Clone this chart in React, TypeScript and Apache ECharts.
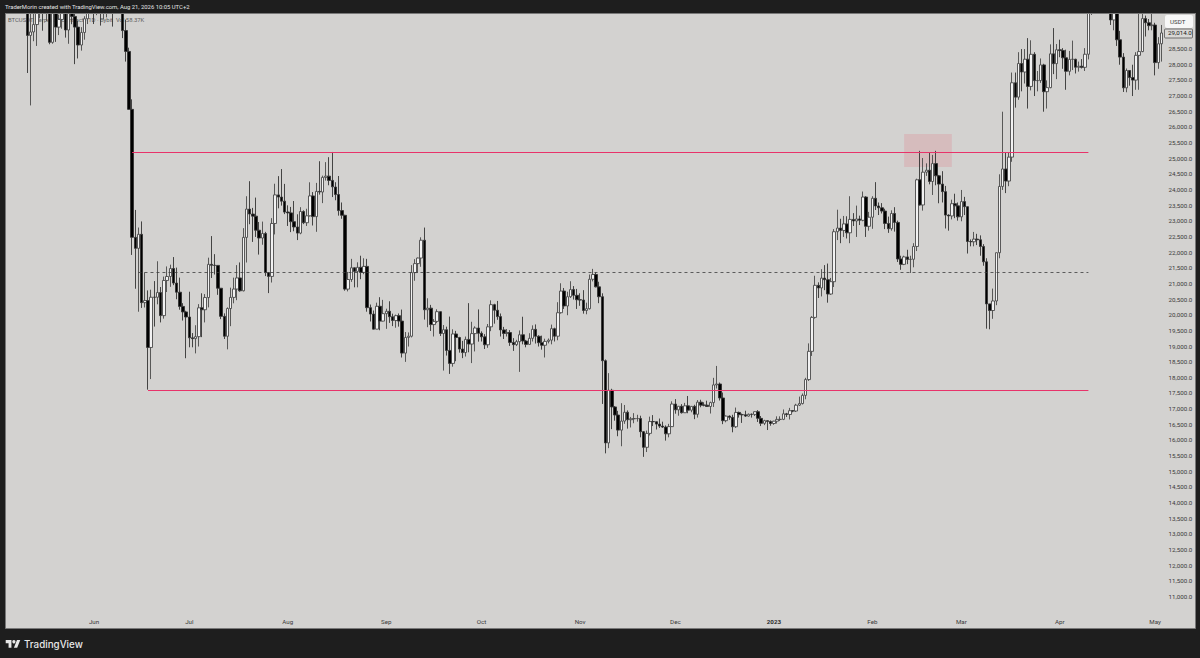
import React, { useEffect, useRef } from "react";
import * as echarts from "echarts";

// rows: [open, high, low, close]
const may22 = [
[31017,32162,27736,28936],[28936,30243,26700,29047],[29047,31083,28751,29283],[29283,30343,28600,30101],[30101,31460,29480,31305],[31305,31305,29087,29862],[29862,31000,29400,30425],[30425,30700,28654,28715],[28715,30545,28670,30319],[30319,30777,28730,29201],[29201,29600,28947,29445],[29445,30487,29150,30293],[30293,30670,28866,29109],[29109,29842,28669,29654],[29654,30223,29294,29542],[29542,29886,28019,29201],[29201,29400,28200,28629],[28629,29200,28450,29031],[29031,29550,28800,29468],[29468,32222,29299,31734],[31734,32399,31200,31801],
];
const jun22 = [
[31801,31986,29300,29805],[29805,30700,29583,30452],[30452,30690,29250,29700],[29700,29956,29450,29864],[29864,30189,29512,29920],[29920,31765,29880,31373],[31373,31549,29218,31125],[31125,31300,29843,30204],[30204,30700,29944,30109],[30109,30330,28850,29091],[29091,29440,28100,28424],[28424,28544,26560,26574],[26574,26895,21925,22487],[22487,23362,20846,22136],[22136,22800,20111,22583],[22583,22995,20232,20401],[20401,21365,20246,20468],[20468,20792,17622,18970],[18970,20815,17960,20574],[20574,21090,19637,20573],[20573,21723,20348,20723],[20723,20900,19770,19987],[19987,21233,19890,21110],[21110,21558,20740,21237],[21237,21614,20906,21491],[21491,21857,20960,21027],[21027,21520,20510,20735],[20735,21200,20176,20280],[20280,20385,19830,20105],[20105,20141,18626,19942],
];
const jul22 = [
[19942,20750,18975,19279],[19279,19430,18975,19252],[19252,19680,18781,19315],[19315,20354,19000,20236],[20236,20700,19300,20175],[20175,20675,19770,20564],[20564,21838,20250,21624],[21624,22527,21189,21594],[21594,21950,21300,21591],[21591,21600,20650,20862],[20862,20868,19875,19963],[19963,20059,19240,19328],[19328,20250,18910,20213],[20213,20880,19650,20569],[20569,21200,20380,20836],[20836,21600,20480,21190],[21190,21685,20750,20779],[20779,22780,20761,22485],[22485,23800,21683,23389],[23389,24280,22906,23231],[23231,23427,22341,23164],[23164,23756,22500,22714],[22714,22977,21936,22465],[22465,22990,22250,22609],[22609,22662,21250,21361],[21361,21360,20706,21239],[21239,23100,21044,22930],[22930,24199,22580,23843],[23843,24442,23414,23773],[23773,24668,23500,23643],[23643,24194,23229,23293],
];
const aug22 = [
[23296,23509,22850,23268],[23268,23459,22654,22987],[22987,23647,22681,22818],[22818,23223,22400,22622],[22622,23450,22586,23312],[23312,23350,22909,22954],[22954,23400,22850,23175],[23175,24245,23154,23810],[23810,23933,22865,23149],[23149,24226,22664,23954],[23954,24918,23852,23934],[23934,24458,23580,24403],[24403,24889,24300,24441],[24441,25047,24150,24305],[24305,25214,23773,24100],[24094,24247,23671,23854],[23854,24446,23180,23342],[23342,23600,23080,23191],[23191,23208,20783,20834],[20834,21382,20761,21140],[21140,21800,21064,21515],[21515,21520,20890,21399],[21399,21689,20890,21529],[21529,21900,21150,21368],[21368,21819,21310,21559],[21559,21800,20112,20241],[20241,20341,19800,20037],[20037,20150,19550,19555],[19555,20400,19550,20285],[20285,20575,19520,19812],[19812,20490,19800,20050],
];
const sep22 = [
[20050,20208,19565,20126],[20126,20445,19755,19952],[19952,20050,19652,19831],[19831,20019,19600,19985],[19985,20056,19635,19812],[19812,20180,18649,18790],[18790,19463,18510,19290],[19290,19450,19000,19329],[19329,21600,19291,21361],[21361,21790,21100,21648],[21648,21840,21350,21826],[21826,22488,21546,22395],[22395,22799,19860,20173],[20173,20541,19617,20226],[20226,20330,19497,19701],[19701,19876,19320,19803],[19803,20189,19748,20113],[20113,20117,19335,19416],[19416,19686,18232,19537],[19537,19634,18711,18875],[18875,19956,18125,18461],[18461,19550,18356,19401],[19401,19500,18531,19288],[19288,19310,18805,18920],[18920,19180,18629,18807],[18807,19318,18680,19227],[19227,20385,18816,19079],[19079,19790,18471,19412],[19412,19645,18843,19591],[19591,20185,19155,19422],
];
const oct22 = [
[19422,19484,19160,19310],[19310,19395,18920,19056],[19056,19719,18959,19629],[19629,20475,19490,20337],[20337,20365,19730,20158],[20158,20456,19853,19955],[19955,20055,19320,19531],[19531,19627,19240,19417],[19417,19558,19320,19446],[19446,19525,19020,19131],[19131,19268,18860,19060],[19060,19214,19015,19155],[19155,19513,18190,19375],[19375,19951,19070,19176],[19176,19212,18975,19068],[19068,19425,19065,19262],[19262,19676,19160,19549],[19549,19706,19095,19327],[19327,19360,19000,19123],[19123,19347,18900,19041],[19041,19250,18650,19164],[19164,19257,19100,19204],[19204,19700,19070,19570],[19570,19601,19160,19330],[19330,20415,19200,20080],[20080,21020,20050,20771],[20771,20870,20200,20295],[20295,20750,20000,20591],[20591,21085,20552,20818],[20818,20930,20500,20635],[20635,20840,20200,20495],
];
const nov22 = [
[20495,20700,20300,20485],[20485,20800,20050,20151],[20151,20400,20030,20207],[20207,21300,20180,21148],[21148,21480,21080,21299],[21299,21365,20890,20905],[20905,21069,20384,20591],[20591,20700,17166,18547],[18547,18587,15588,15922],[15922,18150,15754,17601],[17601,17650,16361,17070],[17070,17099,16631,16812],[16812,16945,16135,16330],[16330,17190,15815,16619],[16619,17133,16530,16900],[16900,16960,16377,16662],[16662,16751,16415,16692],[16692,16872,16550,16700],[16700,16820,16600,16700],[16700,16790,16100,16280],[16280,16300,15476,15781],[15781,16315,15630,16226],[16226,16760,16160,16603],[16603,16810,16460,16598],[16598,16600,16350,16522],[16522,16700,16400,16458],[16458,16600,16400,16428],[16428,16480,15995,16212],[16212,16530,16100,16442],[16442,17250,16430,17163],
];
const dec22 = [
[17163,17320,16855,16977],[16977,17100,16790,17092],[17092,17160,16860,16885],[16885,17200,16880,17105],[17105,17420,16870,16967],[16967,17100,16900,17089],[17089,17140,16680,16836],[16836,17290,16730,17224],[17224,17300,17060,17128],[17128,17220,17090,17127],[17127,17270,17070,17085],[17085,17240,16860,17209],[17209,18000,17070,17774],[17774,18380,17660,17803],[17803,17850,17275,17356],[17356,17530,16520,16632],[16632,16800,16580,16777],[16777,16800,16660,16738],[16738,16820,16260,16438],[16438,17050,16400,16895],[16895,16920,16730,16824],[16824,16860,16560,16821],[16821,16950,16750,16778],[16778,16860,16760,16836],[16836,16860,16730,16832],[16832,16930,16780,16918],[16918,16970,16590,16706],[16706,16780,16460,16547],[16547,16660,16490,16633],[16633,16640,16333,16607],[16607,16640,16470,16542],
];
const jan23 = [
[16541,16628,16500,16616],[16616,16770,16540,16672],[16672,16770,16620,16674],[16674,16990,16650,16851],[16851,16880,16750,16829],[16829,17040,16670,16950],[16950,16970,16900,16940],[16940,17170,16910,17127],[17127,17400,17100,17178],[17178,17500,17150,17440],[17440,18000,17315,17944],[17944,19100,17900,18846],[18846,19970,18700,19930],[19930,21260,19890,20954],[20954,21050,20550,20871],[20871,21470,20600,21185],[21185,21600,20800,21134],[21134,21650,20400,20677],[20677,21190,20650,21071],[21071,22750,20900,22667],[22667,23370,22400,22783],[22783,23080,22300,22707],[22707,23170,22500,22916],[22916,23160,22450,22632],[22632,23800,22300,23060],[23060,23260,22850,23009],[23009,23500,22500,23074],[23074,23180,22880,23031],[23031,23950,23000,23774],[23774,23800,22500,22840],[22840,23300,22700,23130],
];
const feb23 = [
[23130,23800,22760,23734],[23734,24250,23360,23488],[23488,23600,23200,23431],[23431,23580,23250,23326],[23326,23400,22750,22932],[22932,23150,22630,22762],[22762,23350,22700,23249],[23249,23450,22670,22963],[22963,23020,21700,21796],[21796,21900,21450,21625],[21625,21900,21600,21862],[21862,22090,21630,21782],[21782,21900,21350,21786],[21786,22300,21530,22196],[22196,24360,22050,24324],[24324,25250,23500,23521],[23521,25020,23340,24568],[24568,24850,24450,24631],[24631,25190,24180,24271],[24271,25120,23840,24842],[24842,25250,24150,24452],[24452,24480,23575,24188],[24188,24600,23600,23947],[23947,24130,22770,23198],[23198,23220,22700,23170],[23170,23690,23060,23561],[23561,23880,23100,23492],[23492,23600,23020,23141],
];
const mar23 = [
[23141,24000,23000,23628],[23628,23780,23200,23465],[23465,23470,21970,22354],[22354,22420,22200,22346],[22346,22660,22200,22430],[22430,22600,22240,22409],[22409,22550,21900,22195],[22195,22270,21580,21705],[21705,21820,19570,20362],[20362,20360,19550,20150],[20150,20850,19885,20455],[20455,22000,20320,21996],[21996,24500,21820,24113],[24113,26500,24000,24670],[24670,25200,23900,24285],[24285,25200,24120,25049],[25049,27750,24900,27424],[27424,27750,26630,26965],[26965,28400,26880,28038],[28038,28500,27150,27767],[27767,28500,27400,28175],[28175,28850,26600,27307],[27307,28780,27180,28333],[28333,28400,27000,27493],[27493,27800,27150,27494],[27494,28200,27420,27994],[27994,28030,26500,27139],[27139,27500,26600,27268],[27268,28650,27250,28348],[28348,29170,27700,28034],[28034,28660,27540,28478],
];
const apr23 = [
[28478,28800,28240,28452],[28452,28530,27870,28222],[28222,28480,27200,27790],[27790,28440,27660,28170],[28170,28770,27830,28175],[28175,28190,27720,27920],[27920,28100,27780,27950],[27950,28180,27880,27917],[27917,28530,27800,28335],[28335,29770,28170,29650],[29650,30550,29590,30230],[30230,30500,29650,29880],[29880,30620,29880,30395],[30395,31000,29900,30485],[30485,30600,30260,30318],[30318,30550,30230,30315],[30315,30320,29270,29430],[29430,30490,29100,30380],[30380,30410,28600,28797],[28797,29080,28000,28243],[28243,28370,27130,27262],[27262,27880,27120,27816],[27816,27820,27330,27590],[27590,28000,27000,27510],[27510,28400,27200,28300],[28300,30000,27200,28420],[28420,29880,28400,29473],[29473,29570,28900,29340],[29340,29460,29100,29248],[29248,29960,29100,29268],
];
const may23 = [
[29268,29340,27660,28068],[28068,28880,27870,28669],[28669,29270,28100,29014],
];

const months = [may22, jun22, jul22, aug22, sep22, oct22, nov22, dec22, jan23, feb23, mar23, apr23, may23];
const firstDate = "2022-05-11";
const monthLabels: Record<string, string> = {
  "2022-06-01": "Jun", "2022-07-01": "Jul", "2022-08-01": "Aug", "2022-09-01": "Sep",
  "2022-10-01": "Oct", "2022-11-01": "Nov", "2022-12-01": "Dec", "2023-01-01": "2023",
  "2023-02-01": "Feb", "2023-03-01": "Mar", "2023-04-01": "Apr", "2023-05-01": "May",
};
const priceTicks = [
  11000, 11500, 12000, 12500, 13000, 13500, 14000, 14500, 15000, 15500, 16000, 16500,
  17000, 17500, 18000, 18500, 19000, 19500, 20000, 20500, 21000, 21500, 22000, 22500,
  23000, 23500, 24000, 24500, 25000, 25500, 26000, 26500, 27000, 27500, 28000, 28500,
];
const resistance = 25200;
const support = 17590;
const midline = 21380;
const zoneTop = 25787;
const zoneBottom = 24733;
const lastPrice = "29,014.0";

const rows = months.flat();
const categories = rows.map((_, i) => {
  const d = new Date(Date.parse(firstDate + "T00:00:00Z") + i * 86400000);
  return d.toISOString().slice(0, 10);
});
const candleData = rows.map(([o, h, l, c]) => [o, c, l, h]);

echarts.graphic.registerShape(
  "tvlogo",
  echarts.graphic.extendPath("M14 22H7V11H0V4h14v18zM28 22h-8l7.5-18h8L28 22z", {}) as any
);

const FONT = "Roboto, 'Liberation Sans', sans-serif";

export default function App() {
  const ref = useRef<HTMLDivElement>(null);
  useEffect(() => {
    document.body.style.margin = "0";
    const chart = echarts.init(ref.current!, undefined, { renderer: "svg" });
    chart.setOption({
      animation: false,
      backgroundColor: "#1e1e1e",
      grid: { left: 25.7, right: 36.94, top: 13, bottom: 45.34, show: false },
      xAxis: {
        type: "category",
        data: categories,
        boundaryGap: true,
        axisLine: { show: false },
        axisTick: { show: false },
        splitLine: { show: false },
        axisLabel: {
          interval: (_: number, v: string) => v in monthLabels,
          formatter: (v: string) => (monthLabels[v] === "2023" ? "{b|2023}" : monthLabels[v] || ""),
          rich: { b: { fontWeight: "bold", fontSize: 6.2, color: "#2a2a2a", fontFamily: FONT } },
          color: "#3a3a3a",
          fontSize: 6.2,
          fontFamily: FONT,
          margin: 6,
        },
      },
      yAxis: {
        type: "value",
        position: "right",
        min: 10500,
        max: 29652,
        interval: 500,
        scale: true,
        axisLine: { show: false },
        axisTick: { show: false },
        splitLine: { show: false },
        axisLabel: {
          customValues: priceTicks,
          formatter: (v: number) => v.toLocaleString("en-US", { minimumFractionDigits: 1, maximumFractionDigits: 1 }),
          color: "#3a3a3a",
          fontSize: 6.2,
          fontFamily: FONT,
          margin: 5.5,
        },
      },
      graphic: {
        elements: [
          { type: "rect", z: 0, shape: { x: 5.5, y: 13.5, width: 1190, height: 615 }, style: { fill: "#d3d2d0", stroke: "#787878", lineWidth: 1 }, silent: true },
          { type: "text", z: 1, x: 8, y: 17, style: { text: "BTCUSDT Perpetual Contract · 1D · Bybit  Vol 58.37K", fill: "#5c5c5c", font: `5.9px ${FONT}` } },
          { type: "rect", z: 5, shape: { x: 0, y: 0, width: 1200, height: 13 }, style: { fill: "#1e1e1e" }, silent: true },
          { type: "line", z: 5, shape: { x1: 5, y1: 13.5, x2: 1196, y2: 13.5 }, style: { stroke: "#787878", lineWidth: 1 }, silent: true },
          { type: "text", z: 6, x: 5, y: 4, style: { text: "TraderMorin created with TradingView.com, Aug 21, 2026 10:05 UTC+2", fill: "#e4e4e4", font: `5.9px ${FONT}` } },
          { type: "tvlogo", z: 1, x: 5.7, y: 638.4, scaleX: 0.41, scaleY: 0.43, style: { fill: "#e8e8e8" } },
          { type: "circle", z: 1, x: 5.7, y: 638.4, scaleX: 0.41, scaleY: 0.43, shape: { cx: 20, cy: 8, r: 4 }, style: { fill: "#e8e8e8" } },
          { type: "text", z: 1, x: 24, y: 639, style: { text: "TradingView", fill: "#e8e8e8", font: `500 9.8px Inter, ${FONT}` } },
          { type: "rect", z: 5, shape: { x: 1165, y: 15, width: 28, height: 13, r: 2 }, style: { fill: "#f7f7f7" } },
          { type: "text", z: 6, x: 1170, y: 18.5, style: { text: "USDT", fill: "#3a3a3a", font: `6.2px ${FONT}` } },
          { type: "rect", z: 5, shape: { x: 1164.5, y: 29, width: 28, height: 9, r: 1 }, style: { fill: "#d9d8d6", stroke: "#444444", lineWidth: 0.7 } },
          { type: "text", z: 6, x: 1168, y: 30, style: { text: lastPrice, fill: "#222222", font: `6.2px ${FONT}` } },
        ],
      },
      series: [
        {
          type: "candlestick",
          data: candleData,
          barWidth: 3,
          clip: true,
          itemStyle: {
            color: "#f2f2f2",
            color0: "#000000",
            borderColor: "#4a4a4a",
            borderColor0: "#333333",
            borderWidth: 0.9,
          },
          markLine: {
            silent: true,
            symbol: "none",
            label: { show: false },
            data: [
              [
                { coord: ["2022-06-13", resistance], lineStyle: { color: "#e8336a", width: 1, type: "solid" } },
                { coord: ["2023-04-10", resistance] },
              ],
              [
                { coord: ["2022-06-18", support], lineStyle: { color: "#e8336a", width: 1.2, type: "solid" } },
                { coord: ["2023-04-10", support] },
              ],
              [
                { coord: ["2022-06-15", midline], lineStyle: { color: "#3c3c3c", width: 0.8, type: [3, 3] } },
                { coord: ["2023-04-10", midline] },
              ],
            ],
          },
          markArea: {
            silent: true,
            itemStyle: { color: "rgba(226,110,125,0.22)" },
            data: [[{ coord: ["2023-02-11", zoneTop] }, { coord: ["2023-02-26", zoneBottom] }]],
          },
        },
      ],
    });
    return () => chart.dispose();
  }, []);
  return <div ref={ref} style={{ width: 1200, height: 658 }} />;
}
